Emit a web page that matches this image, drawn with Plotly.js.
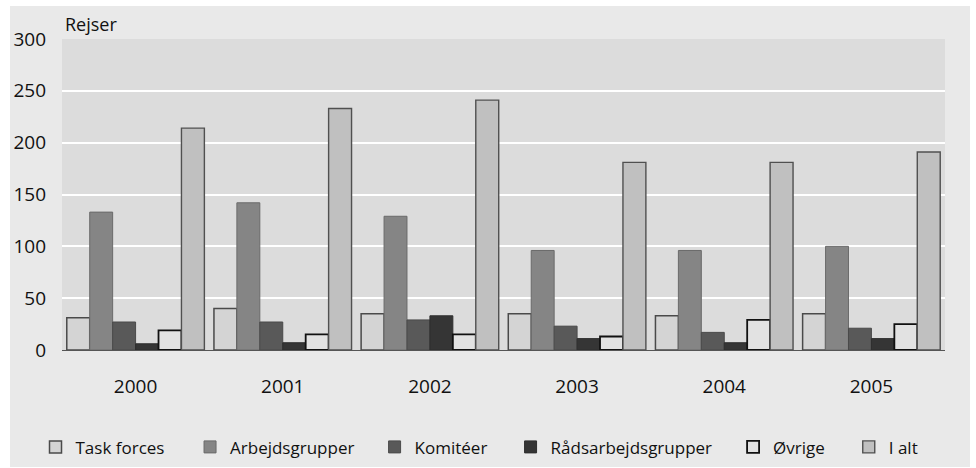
<!DOCTYPE html>
<html>
<head>
<meta charset="utf-8">
<script src="https://cdn.plot.ly/plotly-3.0.1.min.js"></script>
<style>
html, body { margin: 0; padding: 0; background: #ffffff; width: 976px; height: 468px; overflow: hidden; }
#chart { position: absolute; left: 10px; top: 6px; width: 960px; height: 461px; }
</style>
</head>
<body>
<div id="chart"></div>
<script>
const years = ['2000', '2001', '2002', '2003', '2004', '2005'];
const taskForces = [31, 40, 35, 35, 33, 35];
const arbejdsgrupper = [133, 142, 129, 96, 96, 100];
const komiteer = [27, 27, 29, 23, 17, 21];
const raadsarbejdsgrupper = [6, 7, 33, 11, 7, 11];
const oevrige = [19, 15, 15, 13, 29, 25];
const iAlt = [214, 233, 241, 181, 181, 191];
const seriesNames = ['Task forces', 'Arbejdsgrupper', 'Komitéer', 'Rådsarbejdsgrupper', 'Øvrige', 'I alt'];
const yTicks = [0, 50, 100, 150, 200, 250, 300];

const seriesValues = [taskForces, arbejdsgrupper, komiteer, raadsarbejdsgrupper, oevrige, iAlt];
const fills = ['#d4d4d4', '#858585', '#595959', '#353535', '#e2e2e2', '#c0c0c0'];
const lines = ['#4a4a4a', '#6a6a6a', '#4a4a4a', '#2e2e2e', '#111111', '#505050'];
const lineWidths = [1.5, 1, 1, 1, 1.8, 1.4];
// legend entry left edges (paper fraction of plot width), one legend per series
const legendX = [-0.030, 0.145, 0.354, 0.508, 0.760, 0.891];
const legendIds = ['legend', 'legend2', 'legend3', 'legend4', 'legend5', 'legend6'];

const fontFamily = "'Open Sans', 'Noto Sans', sans-serif";

const traces = seriesNames.map((name, i) => ({
  type: 'bar',
  name: name,
  x: years,
  y: seriesValues[i],
  legend: legendIds[i],
  marker: { color: fills[i], line: { color: lines[i], width: lineWidths[i] } },
  hoverinfo: 'x+y+name'
}));

const tickFont = { family: fontFamily, size: 19, color: '#111111' };

const layout = {
  width: 960,
  height: 461,
  paper_bgcolor: '#e9e9e9',
  plot_bgcolor: '#dcdcdc',
  margin: { l: 52, r: 25, t: 33, b: 117, autoexpand: false },
  barmode: 'group',
  bargap: 0.065,
  bargroupgap: 0,
  font: { family: fontFamily, color: '#111111', size: 19 },
  xaxis: {
    type: 'category',
    showgrid: false,
    showline: true,
    linecolor: '#555555',
    linewidth: 1.2,
    ticks: '',
    ticklabelstandoff: 19,
    tickfont: tickFont,
    zeroline: false
  },
  yaxis: {
    range: [0, 300],
    tickvals: yTicks,
    ticktext: yTicks.map(String),
    showgrid: true,
    gridcolor: '#ffffff',
    gridwidth: 2,
    zeroline: false,
    showline: false,
    ticks: '',
    ticklabelstandoff: 15,
    tickfont: tickFont
  },
  showlegend: true,
  annotations: [{
    text: 'Rejser',
    xref: 'paper', yref: 'paper',
    x: 0, y: 1,
    xanchor: 'left', yanchor: 'bottom',
    xshift: 1, yshift: 1,
    showarrow: false,
    font: { family: fontFamily, size: 18, color: '#111111' }
  }]
};

legendIds.forEach((id, i) => {
  layout[id] = {
    orientation: 'h',
    x: legendX[i],
    xanchor: 'left',
    y: -0.313,
    yanchor: 'middle',
    font: { family: fontFamily, size: 17, color: '#111111' },
    bgcolor: 'rgba(0,0,0,0)',
    borderwidth: 0,
    itemwidth: 30
  };
});

Plotly.newPlot('chart', traces, layout, { displayModeBar: false, staticPlot: true });
</script>
</body>
</html>
